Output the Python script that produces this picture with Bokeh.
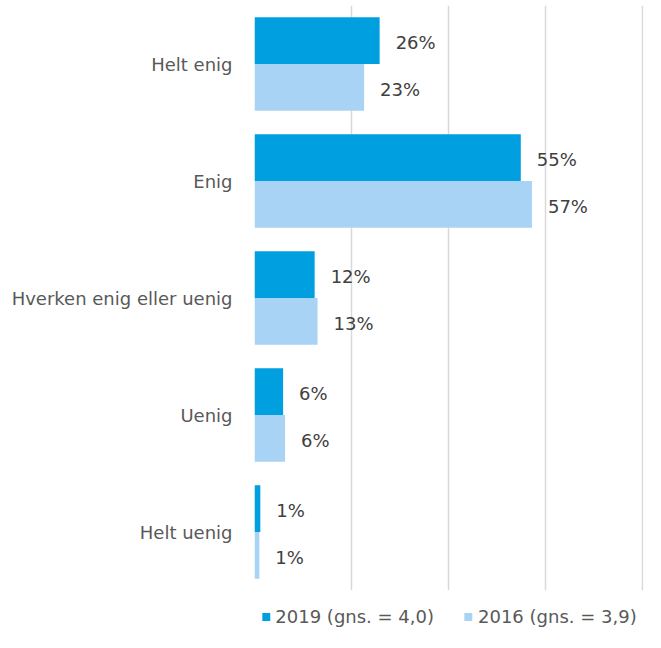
from bokeh.plotting import figure
from bokeh.layouts import column
from bokeh.models import FactorRange, Range1d, Legend, LegendItem, FixedTicker, ColumnDataSource
from bokeh.transform import dodge
from bokeh.core.properties import value
from bokeh.embed import file_html
from bokeh.resources import INLINE

categories = ["Helt enig", "Enig", "Hverken enig eller uenig", "Uenig", "Helt uenig"]
values_2019 = [25.8, 54.9, 12.4, 5.9, 1.2]
values_2016 = [22.6, 57.2, 13.0, 6.3, 1.0]
series_names = ["2019 (gns. = 4,0)", "2016 (gns. = 3,9)"]
grid_ticks = [0, 20, 40, 60, 80]

C2019 = "#009FE0"
C2016 = "#A9D3F5"
FONT = "DejaVu Sans"
FS = "18px"

src = ColumnDataSource(dict(
    cat=categories,
    v2019=values_2019,
    v2016=values_2016,
    l2019=[f"{round(v)}%" for v in values_2019],
    l2016=[f"{round(v)}%" for v in values_2016],
))

p = figure(
    y_range=FactorRange(*reversed(categories)),
    x_range=Range1d(0, 80.2),
    width=645, height=600,
    output_backend="svg", toolbar_location=None,
    min_border_left=254, min_border_right=2, min_border_top=5, min_border_bottom=10,
)
p.outline_line_color = None

p.hbar(y=dodge("cat", 0.2, range=p.y_range), left=0, right="v2019", height=0.4,
       source=src, fill_color=C2019, line_color=None)
p.hbar(y=dodge("cat", -0.2, range=p.y_range), left=0, right="v2016", height=0.4,
       source=src, fill_color=C2016, line_color=None)

p.text(x="v2019", y=dodge("cat", 0.2, range=p.y_range), text="l2019", source=src,
       x_offset=16, y_offset=2, text_baseline="middle", text_font=value(FONT), text_font_size=FS,
       text_color="#404040")
p.text(x="v2016", y=dodge("cat", -0.2, range=p.y_range), text="l2016", source=src,
       x_offset=16, y_offset=2, text_baseline="middle", text_font=value(FONT), text_font_size=FS,
       text_color="#404040")

p.xaxis.visible = False
p.xgrid.ticker = FixedTicker(ticks=grid_ticks)
p.xgrid.grid_line_color = "#D9D9D9"
p.xgrid.grid_line_width = 1.5
p.ygrid.grid_line_color = None

p.yaxis.axis_line_color = None
p.yaxis.major_tick_line_color = None
p.yaxis.minor_tick_line_color = None
p.yaxis.major_label_standoff = 16
p.yaxis.major_label_text_font = FONT
p.yaxis.major_label_text_font_size = FS
p.yaxis.major_label_text_color = "#595959"

# legend strip below the chart; its renderers are zero-width proxies outside
# the visible range that only carry the series colours for the legend swatches
pl = figure(
    width=645, height=32, x_range=Range1d(0, 1), y_range=Range1d(0, 1),
    output_backend="svg", toolbar_location=None,
    min_border_left=254, min_border_right=2, min_border_top=0, min_border_bottom=0,
)
pl.outline_line_color = None
pl.axis.visible = False
pl.grid.visible = False
l19 = pl.hbar(y=[-5], left=[0], right=[0], height=0.5, fill_color=C2019, line_color=None)
l16 = pl.hbar(y=[-5], left=[0], right=[0], height=0.5, fill_color=C2016, line_color=None)

legend = Legend(
    items=[LegendItem(label=series_names[0], renderers=[l19]),
           LegendItem(label=series_names[1], renderers=[l16])],
    orientation="horizontal", location="center",
    glyph_width=10, glyph_height=10, label_standoff=5, spacing=29,
    padding=0, margin=0, border_line_color=None, background_fill_alpha=0,
    label_text_font=FONT, label_text_font_size=FS, label_text_color="#595959",
)
pl.add_layout(legend, "center")

layout = column(p, pl, spacing=0)
open("out.html", "w").write(file_html(layout, INLINE))
